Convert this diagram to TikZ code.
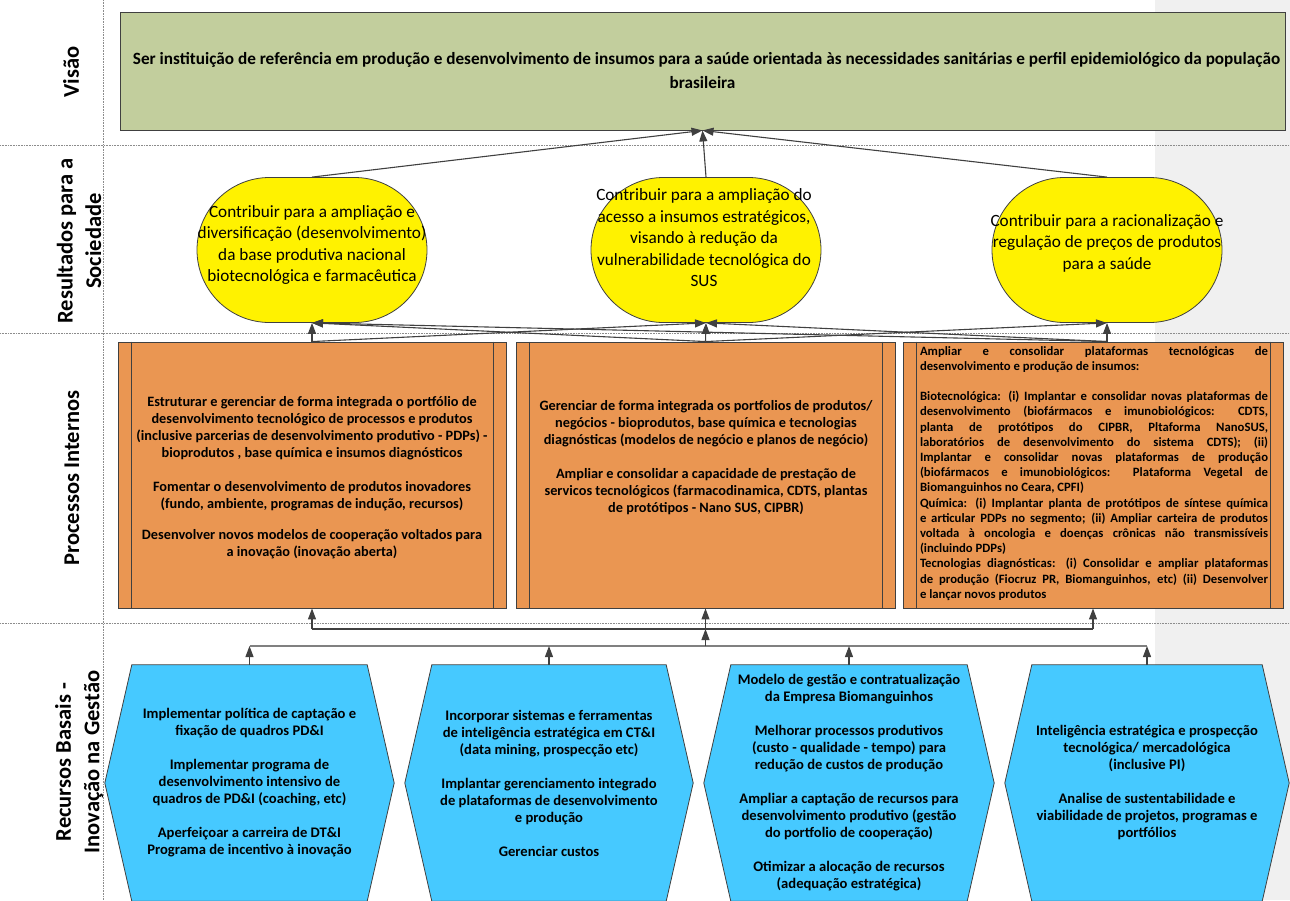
\documentclass[tikz,border=0pt]{standalone}
\usepackage{fontspec}
\setmainfont{Carlito}
\usetikzlibrary{arrows.meta,shapes.misc,calc}
\pgfdeclarelayer{bg}
\pgfsetlayers{bg,main}
\definecolor{visfill}{RGB}{194,206,157}
\definecolor{procfill}{RGB}{234,150,82}
\definecolor{hexfill}{RGB}{70,201,255}
\definecolor{linegray}{RGB}{64,64,64}
\definecolor{stripgray}{RGB}{240,240,240}
\newcommand{\jl}[1]{\makebox[348pt][s]{#1}}
\begin{document}
\begin{tikzpicture}[x=1pt,y=-1pt,
  sep/.style={draw=black!45, dash pattern=on 0.8pt off 0.8pt, line width=0.7pt},
  lab/.style={rotate=90, align=center, font=\bfseries\fontsize{22.5}{28.5}\selectfont, inner sep=0pt},
  visbox/.style={draw=linegray, fill=visfill, line width=0.9pt, inner sep=0pt, align=center, font=\bfseries\fontsize{17.2}{24}\selectfont},
  resshape/.style={rounded rectangle, draw=linegray, fill=yellow, line width=0.8pt, minimum width=230pt, minimum height=145pt, inner sep=0pt},
  restext/.style={align=center, font=\fontsize{17.2}{21.5}\selectfont, inner sep=0pt},
  procbox/.style={draw=linegray, fill=procfill, line width=0.9pt, minimum height=266pt, inner sep=0pt},
  proctext/.style={align=center, font=\bfseries\fontsize{14.3}{17}\selectfont, inner sep=0pt},
  procjust/.style={align=left, font=\bfseries\fontsize{12.7}{15.2}\selectfont, inner sep=0pt},
  hexnode/.style={minimum width=#1, minimum height=236pt, inner sep=0pt, align=center, font=\bfseries\fontsize{14.6}{17}\selectfont},
  hexdraw/.style={draw=linegray, fill=hexfill, line width=0.8pt},
  arr/.style={draw=linegray, line width=1.1pt, -{Triangle[length=11pt,width=8pt]}},
  bus/.style={draw=linegray, line width=1.1pt}
]
\useasboundingbox (0,0) rectangle (1290,900);
\clip (0,0) rectangle (1290,900);

% separators
\draw[sep] (103,0) -- (103,900);
\draw[sep] (0,145) -- (1290,145);
\draw[sep] (0,333) -- (1290,333);
\draw[sep] (0,623) -- (1290,623);

% row labels
\node[lab] (l1) at (71,72) {Visão};
\node[lab] (l2) at (79,241) {Resultados para a\\Sociedade};
\node[lab] (l3) at (72,478) {Processos Internos};
\node[lab] (l4) at (79,762) {Recursos Basais -\\Inovação na Gestão};

% vision
\node[visbox, minimum width=1165pt, minimum height=118pt] (vis) at (702.5,71)
  {\hspace*{8pt}Ser instituição de referência em produção e desenvolvimento de insumos para a saúde orientada às necessidades sanitárias e perfil epidemiológico da população\\brasileira};

% results
\node[resshape] (e1) at (312,250) {};
\node[resshape] (e2) at (706,250) {};
\node[resshape] (e3) at (1107,250) {};
\node[restext] (e1t) at (312,245) {Contribuir para a ampliação e\\diversificação (desenvolvimento)\\da base produtiva nacional\\biotecnológica e farmacêutica};
\node[restext] (e2t) at (704,238) {Contribuir para a ampliação do\\acesso a insumos estratégicos,\\visando à redução da\\vulnerabilidade tecnológica do\\SUS};
\node[restext] (e3t) at (1107,243) {Contribuir para a racionalização e\\regulação de preços de produtos\\para a saúde};

% processes
\node[procbox, minimum width=388pt] (p1) at (312,475) {};
\node[procbox, minimum width=379pt] (p2) at (705.5,475) {};
\node[procbox, minimum width=380pt] (p3) at (1093,475) {};
\foreach \p in {p1,p2,p3} {
  \draw[draw=linegray, line width=0.8pt] ([xshift=13.5pt]\p.north west) -- ([xshift=13.5pt]\p.south west);
  \draw[draw=linegray, line width=0.8pt] ([xshift=-13.5pt]\p.north east) -- ([xshift=-13.5pt]\p.south east);
}
\node[proctext] (p1t) at (312,478) {Estruturar e gerenciar de forma integrada o portfólio de\\desenvolvimento tecnológico de processos e produtos\\(inclusive parcerias de desenvolvimento produtivo - PDPs) -\\bioprodutos , base química e insumos diagnósticos\\[17pt]Fomentar o desenvolvimento de produtos inovadores\\(fundo, ambiente, programas de indução, recursos)\\[14pt]Desenvolver novos modelos de cooperação voltados para\\a inovação (inovação aberta)};
\node[proctext] (p2t) at (706,458) {Gerenciar de forma integrada os portfolios de produtos/\\negócios - bioprodutos, base química e tecnologias\\diagnósticas (modelos de negócio e planos de negócio)\\[17pt]Ampliar e consolidar a capacidade de prestação de\\servicos tecnológicos (farmacodinamica, CDTS, plantas\\de protótipos - Nano SUS, CIPBR)};
\node[procjust, anchor=north] (p3t) at (1094,346) {\jl{Ampliar e consolidar plataformas tecnológicas de}\\desenvolvimento e produção de insumos:\\[15.2pt]\jl{Biotecnológica: (i) Implantar e consolidar novas plataformas de}\\\jl{desenvolvimento (biofármacos e imunobiológicos: CDTS,}\\\jl{planta de protótipos do CIPBR, Pltaforma NanoSUS,}\\\jl{laboratórios de desenvolvimento do sistema CDTS); (ii)}\\\jl{Implantar e consolidar novas plataformas de produção}\\\jl{(biofármacos e imunobiológicos: Plataforma Vegetal de}\\Biomanguinhos no Ceara, CPFI)\\\jl{Química: (i) Implantar planta de protótipos de síntese química}\\\jl{e articular PDPs no segmento; (ii) Ampliar carteira de produtos}\\\jl{voltada à oncologia e doenças crônicas não transmissíveis}\\(incluindo PDPs)\\\jl{Tecnologias diagnósticas: (i) Consolidar e ampliar plataformas}\\\jl{de produção (Fiocruz PR, Biomanguinhos, etc) (ii) Desenvolver}\\e lançar novos produtos};

% basal resources (hexagons)
\node[hexnode=289pt] (h1) at (249.5,783) {Implementar política de captação e\\fixação de quadros PD\&I\\[17pt]Implementar programa de\\desenvolvimento intensivo de\\quadros de PD\&I (coaching, etc)\\[17pt]Aperfeiçoar a carreira de DT\&I\\Programa de incentivo à inovação};
\node[hexnode=288pt] (h2) at (549,783) {Incorporar sistemas e ferramentas\\de inteligência estratégica em CT\&I\\(data mining, prospecção etc)\\[17pt]Implantar gerenciamento integrado\\de plataformas de desenvolvimento\\e produção\\[17pt]Gerenciar custos};
\node[hexnode=290pt] (h3) at (849,783) {Modelo de gestão e contratualização\\da Empresa Biomanguinhos\\[17pt]Melhorar processos produtivos\\(custo - qualidade - tempo) para\\redução de custos de produção\\[17pt]Ampliar a captação de recursos para\\desenvolvimento produtivo (gestão\\do portfolio de cooperação)\\[17pt]Otimizar a alocação de recursos\\(adequação estratégica)};
\node[hexnode=284pt] (h4) at (1147,783) {Inteligência estratégica e prospecção\\tecnológica/ mercadológica\\(inclusive PI)\\[17pt]Analise de sustentabilidade e\\viabilidade de projetos, programas e\\portfólios};

\begin{pgfonlayer}{bg}
  \fill[stripgray] (1155,0) rectangle (1290,900);
  \foreach \h in {h1,h2,h3,h4}
    \draw[hexdraw] (\h.west) -- ([xshift=27pt]\h.north west) -- ([xshift=-27pt]\h.north east) -- (\h.east) -- ([xshift=-27pt]\h.south east) -- ([xshift=27pt]\h.south west) -- cycle;
\end{pgfonlayer}

% connectors: results -> vision
\draw[arr] (e1.north) -- (vis.south);
\draw[arr] (e2.north) -- (vis.south);
\draw[arr] (e3.north) -- (vis.south);

% processes -> results
\coordinate (t3) at (e3.south |- p3.north);
\draw[arr] (p1.north) -- (e1.south);
\draw[arr] (p1.north) -- (e2.south);
\draw[arr] (p2.north) -- (e1.south);
\draw[arr] (p2.north) -- (e2.south);
\draw[arr] (p2.north) -- (e3.south);
\draw[arr] (t3) -- (e1.south);
\draw[arr] (t3) -- (e2.south);
\draw[arr] (t3) -- (e3.south);

% resources -> processes
\coordinate (busH) at (0,646);
\coordinate (busP) at (0,629);
\draw[bus, draw=black!50] (h1.north |- busH) -- (h4.north |- busH);
\foreach \h in {h1,h2,h3,h4}
  \draw[arr] (\h.north) -- (\h.north |- busH);
\draw[arr] (p2.south |- busH) -- (p2.south |- busP);
\draw[bus] (p1.south |- busP) -- (p3.south |- busP);
\foreach \p in {p1,p2,p3}
  \draw[arr] (\p.south |- busP) -- (\p.south);
\end{tikzpicture}
\end{document}
